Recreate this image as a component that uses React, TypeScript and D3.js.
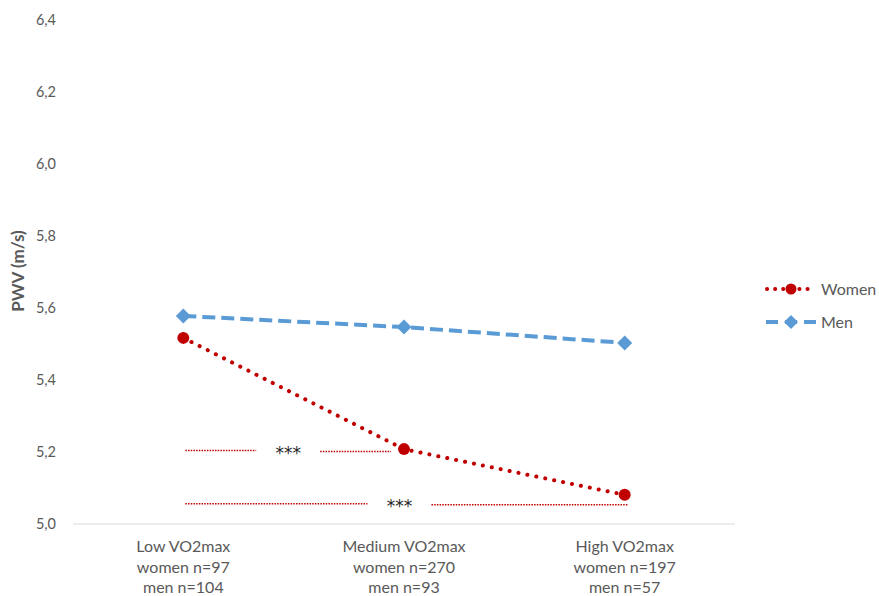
import React from "react";
import * as d3 from "d3";

const categories = ["Low VO2max", "Medium VO2max", "High VO2max"];
const womenN = ["women n=97", "women n=270", "women n=197"];
const menN = ["men n=104", "men n=93", "men n=57"];
const womenValues = [5.517, 5.208, 5.081];
const menValues = [5.578, 5.547, 5.503];
const yTicks = [5.0, 5.2, 5.4, 5.6, 5.8, 6.0, 6.2, 6.4];
// significance lines between categories
const sigLines = [
  { from: 0, to: 1, y: 5.204, label: "***", at: 0.5 },
  { from: 0, to: 2, y: 5.056, label: "***", at: 0.483 },
];

const W = 879;
const H = 596;
const left = 73;
const right = 735;
const top = 20;
const bottom = 524;
const font = "Lato, 'Open Sans', sans-serif";
const RED = "#c00000";
const BLUE = "#5b9bd5";

export default function App() {
  const x = d3.scalePoint<string>().domain(categories).range([left, right]).padding(0.5);
  const y = d3.scaleLinear().domain([5.0, 6.4]).range([bottom, top]);
  const line = d3.line<number>().x((_, i) => x(categories[i])!).y((d) => y(d));

  const diamond = (cx: number, cy: number, r: number) =>
    `M${cx},${cy - r}L${cx + r},${cy}L${cx},${cy + r}L${cx - r},${cy}Z`;

  return (
    <svg width={W} height={H} style={{ position: "absolute", left: 0, top: 0, background: "#fff" }}>
      {yTicks.map((t) => (
        <text key={t} x={56} y={y(t)} dy="0.35em" textAnchor="end" fontFamily={font} fontSize={14.5} fill="#595959">
          {t.toFixed(1).replace(".", ",")}
        </text>
      ))}
      <line x1={left} x2={right} y1={y(5.0)} y2={y(5.0)} stroke="#d9d9d9" strokeWidth={1} />
      <text
        transform={`translate(24,${271}) rotate(-90)`}
        textAnchor="middle"
        fontFamily={font}
        fontSize={17}
        fontWeight="bold"
        fill="#595959"
      >
        PWV (m/s)
      </text>
      {categories.map((c, i) => (
        <g key={c} fontFamily={font} fontSize={16} fill="#595959" textAnchor="middle">
          <text x={x(c)} y={552}>{c}</text>
          <text x={x(c)} y={573}>{womenN[i]}</text>
          <text x={x(c)} y={593}>{menN[i]}</text>
        </g>
      ))}
      {sigLines.map((s, i) => {
        const x0 = x(categories[s.from])! + 2;
        const x1 = x(categories[s.to])! + (s.to === 2 ? 4 : -13);
        const mid = x0 + (x1 - x0) * s.at;
        const gap = 32;
        const yy = y(s.y);
        return (
          <g key={i}>
            <line x1={x0} x2={mid - gap} y1={yy} y2={yy} stroke={RED} strokeWidth={1.5} strokeDasharray="1.5 1.2" />
            <line x1={mid + gap} x2={x1} y1={yy + 1} y2={yy + 1} stroke={RED} strokeWidth={1.5} strokeDasharray="1.5 1.2" />
            <text x={mid} y={yy + 8} textAnchor="middle" fontFamily="'DejaVu Sans', sans-serif" fontSize={17} fill="#262626">
              {s.label}
            </text>
          </g>
        );
      })}
      <path d={line(menValues)!} fill="none" stroke={BLUE} strokeWidth={4} strokeDasharray="13 6" />
      {menValues.map((v, i) => (
        <path key={i} d={diamond(x(categories[i])!, y(v), 7.5)} fill={BLUE} />
      ))}
      <path d={line(womenValues)!} fill="none" stroke={RED} strokeWidth={4} strokeDasharray="0.1 9" strokeLinecap="round" />
      {womenValues.map((v, i) => (
        <circle key={i} cx={x(categories[i])} cy={y(v)} r={6} fill={RED} />
      ))}
      <g fontFamily={font} fontSize={16} fill="#595959">
        <line x1={767} x2={815} y1={289} y2={289} stroke={RED} strokeWidth={4} strokeDasharray="0.1 8" strokeLinecap="round" />
        <circle cx={791} cy={289} r={5.5} fill={RED} />
        <text x={821} y={289} dy="0.35em">Women</text>
        <line x1={766} x2={816} y1={322} y2={322} stroke={BLUE} strokeWidth={4} strokeDasharray="12 7" />
        <path d={diamond(791, 322, 7)} fill={BLUE} />
        <text x={821} y={322} dy="0.35em">Men</text>
      </g>
    </svg>
  );
}
